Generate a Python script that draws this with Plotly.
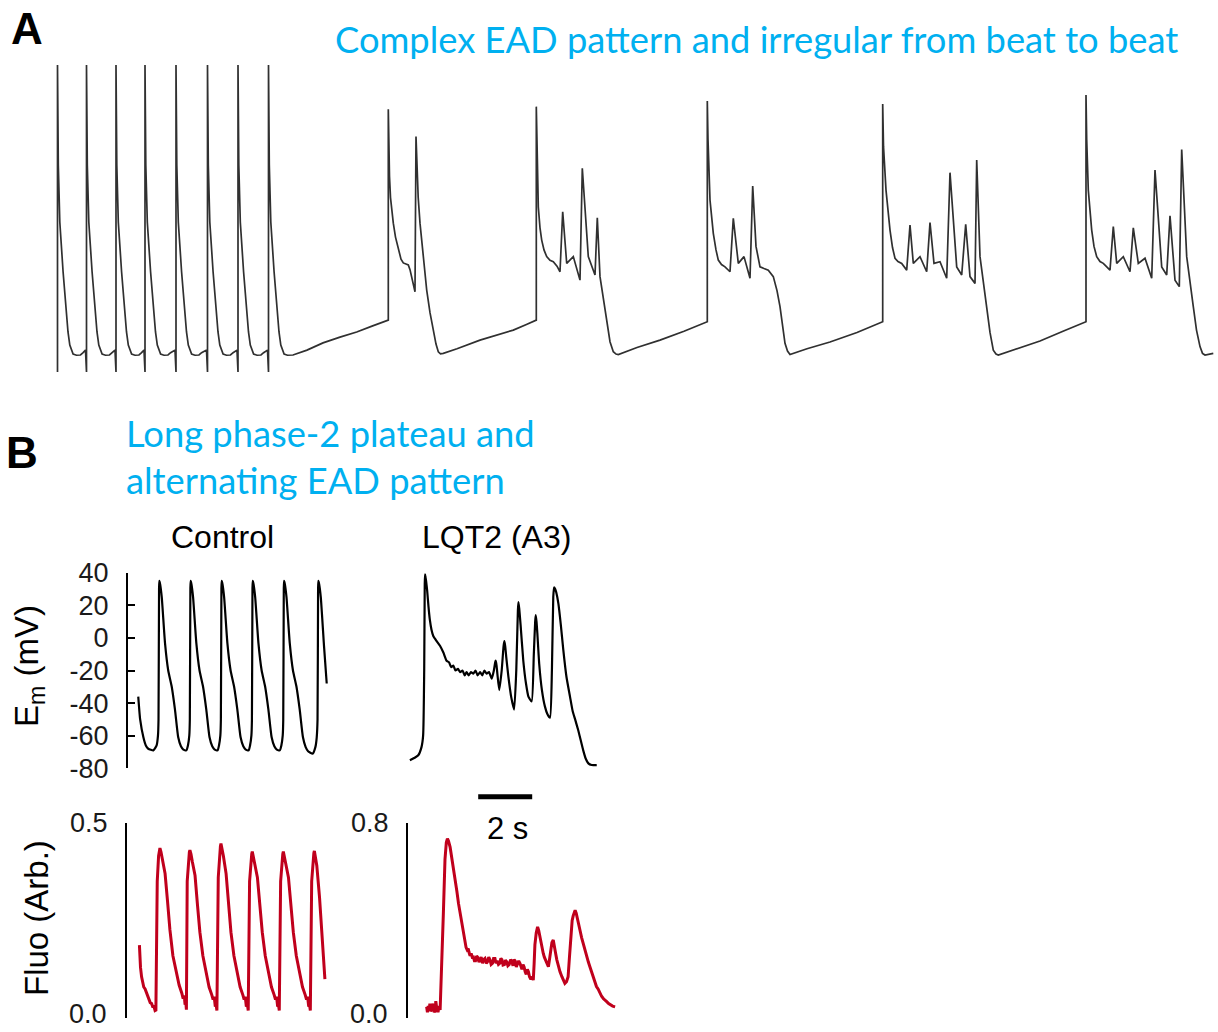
import plotly.graph_objects as go

W, H = 1218, 1032

# ---------------- Panel A : long recording (time in ms, membrane potential in mV) ----------------
tA_ms = [
    5, 5, 13, 28, 61, 95, 110, 128, 145, 161, 195, 235, 261, 285,
    295, 295, 303, 318, 351, 385, 400, 418, 435, 451, 485, 525, 551, 580,
    590, 590, 598, 613, 646, 680, 695, 713, 730, 746, 780, 820, 846, 870,
    880, 880, 888, 903, 936, 970, 985, 1003, 1020, 1036, 1070, 1110, 1136, 1180,
    1190, 1190, 1198, 1213, 1246, 1280, 1295, 1313, 1330, 1346, 1380, 1420, 1446, 1495,
    1505, 1505, 1513, 1528, 1561, 1595, 1610, 1628, 1645, 1661, 1695, 1735, 1761, 1800,
    1810, 1810, 1818, 1833, 1866, 1900, 1915, 1933, 1950, 1966, 2000, 2040, 2066, 2105,
    2115, 2115, 2123, 2138, 2171, 2205, 2220, 2238, 2255, 2271, 2305, 2360, 2500, 2660, 2830, 2997, 3150, 3297,
    3313, 3313, 3318, 3325, 3335, 3350, 3363, 3385, 3413, 3440, 3463, 3490, 3513, 3530, 3547, 3565, 3580,
    3590, 3600, 3612, 3630, 3665, 3697, 3730, 3763, 3790, 3813, 3835, 3863, 4000, 4230, 4400, 4563, 4700, 4793,
    4793, 4800, 4813, 4830, 4847, 4870, 4897, 4930, 4963, 5000, 5030, 5057, 5097, 5163, 5230, 5253, 5313,
    5380, 5403, 5430, 5497, 5530, 5563, 5590, 5613, 5800, 6030, 6270, 6503,
    6503, 6510, 6530, 6545, 6563, 6590, 6613, 6645, 6680, 6730, 6763, 6813, 6870, 6930, 6957, 6990, 7030,
    7070, 7113, 7163, 7200, 7230, 7255, 7280, 7305, 7330, 7500, 7730, 8000, 8257,
    8257, 8265, 8290, 8310, 8330, 8355, 8380, 8410, 8447, 8497, 8530, 8563, 8630, 8697, 8730, 8770, 8830,
    8897, 8930, 8997, 9047, 9087, 9130, 9180, 9197, 9230, 9265, 9297, 9330, 9363, 9390, 9413, 9600, 9830,
    10060, 10290,
    10290, 10297, 10313, 10330, 10347, 10370, 10397, 10430, 10463, 10530, 10563, 10597, 10663, 10730,
    10763, 10813, 10880, 10947, 10980, 11047, 11097, 11130, 11180, 11223, 11247, 11297, 11330, 11363,
    11395, 11430, 11455, 11480, 11563,
]
vA_mV = [
    -92, 40, -3, -27.5, -49, -67.5, -74.8, -80.4, -83, -84.3, -84.8, -84.7, -83.7, -82.6,
    -92, 40, -3, -27.5, -49, -67.5, -74.8, -80.4, -83, -84.3, -84.8, -84.7, -83.7, -82.6,
    -92, 40, -3, -27.5, -49, -67.5, -74.8, -80.4, -83, -84.3, -84.8, -84.7, -83.7, -82.6,
    -92, 40, -3, -27.5, -49, -67.5, -74.8, -80.4, -83, -84.3, -84.8, -84.7, -83.7, -82.6,
    -92, 40, -3, -27.5, -49, -67.5, -74.8, -80.4, -83, -84.3, -84.8, -84.7, -83.7, -82.6,
    -92, 40, -3, -27.5, -49, -67.5, -74.8, -80.4, -83, -84.3, -84.8, -84.7, -83.7, -82.6,
    -92, 40, -3, -27.5, -49, -67.5, -74.8, -80.4, -83, -84.3, -84.8, -84.7, -83.7, -82.6,
    -92, 40, -3, -27.5, -49, -67.5, -74.8, -80.4, -83, -84.3, -84.8, -84.7, -82.6, -79.5, -77, -74.8, -72.3, -69.7,
    -69.7, 21, 5, -8, -17, -24, -28, -34, -39.6, -43.5, -45.1, -45.5, -46, -48, -51.2, -54.5, -57.5,
    9.2, -5, -17, -28, -44, -56.8, -66.5, -74, -80, -83.3, -84.2, -84, -82, -78.3, -76, -74, -71.5, -69.7,
    22.1, 5, -21, -30, -35.3, -39.5, -42.4, -44, -44.6, -46.5, -48.9, -23.1, -45.3, -42.4, -52.5, -4.4, -42.4,
    -50.3, -25.7, -51, -71.1, -79, -83.3, -84.3, -84.5, -81.5, -78.3, -74.5, -70.4,
    24.5, 8, -18.1, -26.5, -32.4, -39.5, -43.9, -45.8, -46.8, -48.9, -25.9, -45.3, -42.4, -51.7, -12, -38, -46.8,
    -47.5, -48.2, -51, -57, -63.9, -72, -79.7, -83, -84.5, -82, -79.1, -75, -70.4,
    23.2, 5, -13.8, -24, -31, -38.5, -43.1, -44.5, -45.3, -48.2, -28.8, -45.3, -42.4, -48.9, -27.8, -45.3, -44.6,
    -51.7, -6.3, -46.8, -50.3, -28.5, -51, -53.9, -0.9, -42.4, -54, -63.9, -75, -82.6, -84.3, -84.7, -82, -78.7,
    -74.5, -70.4,
    27.1, 8, -13.8, -24, -31, -38, -42.4, -44.5, -45.3, -48.2, -29.5, -45.3, -42.4, -48.9,
    -30, -45.3, -43.1, -51.7, -5.2, -46.8, -50.3, -24.8, -52.5, -55.3, 3.7, -42.4, -54, -63.9,
    -74, -81.1, -84, -84.7, -84,
]

# ---------------- Panel B : membrane potential (time in s, mV) ----------------
t_em_ctrl = [
    0.38, 0.45, 0.57, 0.66, 0.75, 0.94, 1.06, 1.11, 1.13,
    1.15, 1.16, 1.19, 1.25, 1.37, 1.49, 1.62, 1.74, 1.86, 1.96, 2.05, 2.16, 2.22, 2.27, 2.29,
    2.31, 2.32, 2.35, 2.41, 2.53, 2.65, 2.78, 2.90, 3.02, 3.12, 3.21, 3.32, 3.37, 3.42, 3.44,
    3.46, 3.47, 3.50, 3.56, 3.68, 3.80, 3.93, 4.05, 4.17, 4.27, 4.36, 4.47, 4.52, 4.57, 4.59,
    4.61, 4.62, 4.65, 4.71, 4.83, 4.95, 5.08, 5.20, 5.32, 5.42, 5.51, 5.62, 5.68, 5.73, 5.75,
    5.77, 5.78, 5.81, 5.87, 5.99, 6.11, 6.24, 6.36, 6.48, 6.58, 6.67, 6.84, 6.94, 6.99, 7.02,
    7.04, 7.05, 7.08, 7.14, 7.26, 7.36,
]
em_ctrl = [
    -36, -50, -61, -66, -68, -69, -66, -60, -50,
    30, 35, 33, 25, -3, -20, -30, -44, -61, -66.5, -68.5, -69, -66, -60, -50,
    30, 35, 33, 25, -3, -20, -30, -44, -61, -66.5, -68.5, -69, -66, -60, -50,
    30, 35, 33, 25, -3, -20, -30, -44, -61, -66.5, -68.5, -69, -66, -60, -50,
    30, 35, 33, 25, -3, -20, -30, -44, -61, -66.5, -68.5, -69, -66, -60, -50,
    30, 35, 33, 25, -3, -20, -30, -44, -61, -67, -69.5, -71, -67, -61, -50,
    30, 35, 33, 25, -5, -28,
]
t_em_lqt2 = [
    0.07, 0.25, 0.38, 0.50, 0.56, 0.60, 0.62, 0.63, 0.65, 0.67, 0.71, 0.76, 0.81, 0.87, 0.94,
    1.06, 1.19, 1.31, 1.43, 1.52, 1.60, 1.68, 1.76, 1.85, 1.93, 2.02, 2.10, 2.17, 2.25, 2.33,
    2.42, 2.50, 2.58, 2.67, 2.75, 2.83, 2.91, 3.00, 3.10, 3.18, 3.23, 3.25, 3.28, 3.31, 3.38,
    3.47, 3.54, 3.57, 3.60, 3.64, 3.72, 3.82, 3.93, 4.01, 4.07, 4.09, 4.12, 4.17, 4.27, 4.37,
    4.46, 4.58, 4.66, 4.71, 4.73, 4.76, 4.79, 4.86, 4.96, 5.07, 5.17, 5.26, 5.33, 5.38, 5.41,
    5.45, 5.49, 5.57, 5.66, 5.75, 5.87, 6.00, 6.10, 6.19, 6.31, 6.40, 6.49, 6.58, 6.68, 6.80,
    6.99,
]
em_lqt2 = [
    -75, -73.5, -72, -67, -60, -20, 33, 39, 37, 35, 29, 19, 11, 5, 1,
    -2, -5, -9, -14, -15, -18, -17, -20, -19, -21, -20, -23, -21, -23, -21,
    -22, -20, -23, -21, -23, -20, -22, -21, -25, -20, -15, -14, -17, -22, -32,
    -20, -5, -2, -5, -12, -24, -36, -44, -20, 17, 22, 18, 8, -14, -28,
    -36, -39, -10, 10, 14, 10, 3, -16, -32, -42, -47, -49, -20, 25, 31,
    30, 28, 21, 8, -7, -24, -36, -45, -50, -57, -63, -69, -74, -77, -78,
    -78,
]

# ---------------- Panel B : Ca fluorescence (time in s, arbitrary units) ----------------
t_fl_ctrl = [
    0.46, 0.48, 0.50, 0.54, 0.58, 0.62, 0.67, 0.73, 0.78, 0.82, 0.86, 0.91, 0.95, 1.00, 1.04, 1.07,
    1.12, 1.17, 1.20, 1.22, 1.26, 1.31, 1.41, 1.50, 1.59, 1.70, 1.84, 1.93, 2.03, 2.08, 2.12, 2.15, 2.18, 2.20,
    2.23, 2.28, 2.31, 2.33, 2.37, 2.42, 2.52, 2.61, 2.70, 2.81, 2.95, 3.04, 3.14, 3.19, 3.23, 3.27, 3.30, 3.33,
    3.38, 3.43, 3.46, 3.48, 3.52, 3.57, 3.67, 3.76, 3.85, 3.96, 4.10, 4.19, 4.29, 4.34, 4.38, 4.42, 4.46, 4.49,
    4.54, 4.59, 4.62, 4.64, 4.68, 4.73, 4.83, 4.92, 5.01, 5.12, 5.26, 5.35, 5.45, 5.50, 5.54, 5.58, 5.61, 5.64,
    5.69, 5.74, 5.77, 5.79, 5.83, 5.88, 5.98, 6.07, 6.16, 6.27, 6.41, 6.50, 6.60, 6.65, 6.69, 6.73, 6.76, 6.79,
    6.84, 6.89, 6.92, 6.94, 6.98, 7.03, 7.13, 7.22, 7.33,
]
fl_ctrl = [
    0.187, 0.15, 0.13, 0.106, 0.095, 0.08, 0.075, 0.064, 0.055, 0.05, 0.04, 0.038, 0.03, 0.03, 0.02, 0.021,
    0.35, 0.415, 0.43, 0.435, 0.425, 0.405, 0.37, 0.30, 0.226, 0.16, 0.115, 0.085, 0.064, 0.05, 0.058, 0.035, 0.04, 0.022,
    0.35, 0.415, 0.425, 0.43, 0.42, 0.40, 0.365, 0.29, 0.22, 0.16, 0.11, 0.08, 0.06, 0.048, 0.055, 0.03, 0.035, 0.02,
    0.36, 0.43, 0.44, 0.447, 0.435, 0.415, 0.37, 0.29, 0.22, 0.16, 0.11, 0.08, 0.06, 0.048, 0.055, 0.03, 0.035, 0.02,
    0.35, 0.41, 0.42, 0.426, 0.415, 0.395, 0.36, 0.29, 0.22, 0.16, 0.11, 0.08, 0.06, 0.048, 0.055, 0.03, 0.035, 0.02,
    0.35, 0.41, 0.42, 0.426, 0.415, 0.395, 0.36, 0.29, 0.22, 0.16, 0.11, 0.08, 0.06, 0.048, 0.055, 0.03, 0.035, 0.02,
    0.35, 0.41, 0.422, 0.428, 0.415, 0.39, 0.31, 0.22, 0.10,
]
t_fl_lqt2 = [
    0.69, 0.72, 0.75, 0.78, 0.81, 0.84, 0.87, 0.90, 0.93, 0.97, 1.00, 1.03, 1.06, 1.09, 1.12, 1.16, 1.19,
    1.25, 1.31, 1.37, 1.42, 1.46, 1.50, 1.56, 1.62, 1.68, 1.75, 1.81, 1.87, 1.93, 1.98, 2.02, 2.07, 2.11,
    2.15, 2.19, 2.23, 2.26, 2.30, 2.34, 2.38, 2.42, 2.46, 2.50, 2.54, 2.58, 2.63, 2.67, 2.71, 2.76, 2.80,
    2.85, 2.90, 2.94, 2.99, 3.04, 3.08, 3.13, 3.17, 3.22, 3.26, 3.30, 3.35, 3.40, 3.44, 3.48, 3.52, 3.57,
    3.61, 3.66, 3.70, 3.75, 3.80, 3.84, 3.89, 3.93, 3.97, 4.01, 4.05, 4.10, 4.15, 4.19, 4.22, 4.26, 4.30,
    4.34, 4.38, 4.42, 4.46, 4.50, 4.55, 4.60, 4.64, 4.67, 4.70, 4.75, 4.80, 4.84, 4.89, 4.95, 5.01, 5.05,
    5.10, 5.15, 5.20, 5.24, 5.28, 5.33, 5.38, 5.42, 5.46, 5.51, 5.57, 5.63, 5.70, 5.75, 5.81, 5.87, 5.93,
    5.98, 6.04, 6.08, 6.12, 6.16, 6.19, 6.23, 6.30, 6.37, 6.43, 6.50, 6.56, 6.62, 6.68, 6.74, 6.80, 6.86,
    6.92, 6.98, 7.04, 7.11, 7.17, 7.24, 7.30, 7.36, 7.43, 7.50, 7.58, 7.67,
]
fl_lqt2 = [
    0.047, 0.025, 0.05, 0.03, 0.06, 0.028, 0.035, 0.06, 0.05, 0.025, 0.03, 0.07, 0.045, 0.03, 0.03, 0.05, 0.034,
    0.2, 0.43, 0.65, 0.72, 0.735, 0.725, 0.70, 0.66, 0.619, 0.57, 0.52, 0.47, 0.43, 0.39, 0.36, 0.33, 0.306,
    0.29, 0.28, 0.285, 0.27, 0.255, 0.265, 0.25, 0.251, 0.235, 0.235, 0.255, 0.25, 0.23, 0.24, 0.25, 0.225, 0.24,
    0.245, 0.225, 0.23, 0.25, 0.238, 0.22, 0.225, 0.245, 0.245, 0.225, 0.235, 0.22, 0.225, 0.245, 0.24, 0.218, 0.22,
    0.238, 0.231, 0.215, 0.22, 0.24, 0.235, 0.215, 0.24, 0.235, 0.21, 0.225, 0.235, 0.224, 0.205, 0.2, 0.22, 0.21,
    0.19, 0.18, 0.2, 0.19, 0.17, 0.16, 0.17, 0.156, 0.22, 0.30, 0.35, 0.374, 0.36, 0.33, 0.29, 0.265, 0.25,
    0.235, 0.225, 0.211, 0.24, 0.28, 0.31, 0.32, 0.30, 0.27, 0.24, 0.211, 0.19, 0.17, 0.16, 0.143, 0.15, 0.17,
    0.25, 0.36, 0.40, 0.42, 0.435, 0.442, 0.43, 0.40, 0.36, 0.33, 0.30, 0.275, 0.251, 0.23, 0.21, 0.19, 0.17,
    0.15, 0.13, 0.12, 0.102, 0.09, 0.08, 0.075, 0.068, 0.06, 0.055, 0.05, 0.047,
]

em_ticks = [-80, -60, -40, -20, 0, 20, 40]
fl_ctrl_ticks = [0.0, 0.5]
fl_lqt2_ticks = [0.0, 0.8]
scale_bar_s = [2.6, 4.6]

# ---------------- figure ----------------
BLUE = "#00B0F0"
RED = "#C0001C"
ARIAL = "Liberation Sans"

def px_x(p):
    return p / W

def px_y(p):
    return 1 - p / H

fig = go.Figure()
fig.add_trace(go.Scatter(x=tA_ms, y=vA_mV, mode="lines", xaxis="x", yaxis="y",
                         line=dict(color="#303030", width=1.7), hoverinfo="skip"))
fig.add_trace(go.Scatter(x=t_em_ctrl, y=em_ctrl, mode="lines", xaxis="x2", yaxis="y2",
                         line=dict(color="#000000", width=2.2, shape="spline", smoothing=0.5),
                         hoverinfo="skip"))
fig.add_trace(go.Scatter(x=t_em_lqt2, y=em_lqt2, mode="lines", xaxis="x3", yaxis="y3",
                         line=dict(color="#000000", width=2.2, shape="spline", smoothing=0.5),
                         hoverinfo="skip"))
fig.add_trace(go.Scatter(x=t_fl_ctrl, y=fl_ctrl, mode="lines", xaxis="x4", yaxis="y4",
                         line=dict(color=RED, width=3), hoverinfo="skip"))
fig.add_trace(go.Scatter(x=t_fl_lqt2, y=fl_lqt2, mode="lines", xaxis="x5", yaxis="y5",
                         line=dict(color=RED, width=3), hoverinfo="skip"))

hidden = dict(visible=False, showgrid=False, zeroline=False, fixedrange=True)
span_s = 212 / 27.0

def yax(dom, rng, tickvals, ticktext, anchor, minor_vals=None):
    d = dict(domain=dom, range=rng, anchor=anchor, showline=True, linecolor="#000",
             linewidth=2, ticks="inside", ticklen=7, tickwidth=2, tickcolor="#000",
             tickvals=tickvals, ticktext=ticktext, showgrid=False, zeroline=False,
             tickfont=dict(family=ARIAL, size=27, color="#1a1a1a"),
             ticklabelstandoff=12, ticklabeloverflow="allow", fixedrange=True)
    if minor_vals:
        d["minor"] = dict(tickvals=minor_vals, ticks="inside", ticklen=7, tickwidth=2,
                          tickcolor="#000", showgrid=False)
    return d

em_dom = [px_y(768.3), px_y(572.7)]
fl_dom = [px_y(1018.3), px_y(822.7)]

# the bottom "0.0" labels sit at the very edge of the page: their tick marks are drawn as
# minor ticks and their labels as annotations kept inside the page
fl_ctrl_major = [v for v in fl_ctrl_ticks if v != 0]
fl_lqt2_major = [v for v in fl_lqt2_ticks if v != 0]

fig.update_layout(
    width=W, height=H, margin=dict(l=0, r=0, t=0, b=0, autoexpand=False),
    paper_bgcolor="white", plot_bgcolor="rgba(0,0,0,0)", showlegend=False,
    xaxis=dict(domain=[0, 1], range=[-570, 11610], anchor="y", **hidden),
    yaxis=dict(domain=[px_y(390), px_y(50)], range=[-99.75, 46.45], anchor="x", **hidden),
    xaxis2=dict(domain=[px_x(128), px_x(340)], range=[0, span_s], anchor="y2", **hidden),
    yaxis2=yax(em_dom, [-80, 40], em_ticks, [str(v) for v in em_ticks], "x2"),
    xaxis3=dict(domain=[px_x(408), px_x(620)], range=[0, span_s], anchor="y3", **hidden),
    yaxis3=dict(domain=em_dom, range=[-80, 40], anchor="x3", **hidden),
    xaxis4=dict(domain=[px_x(127), px_x(339)], range=[0, span_s], anchor="y4", **hidden),
    yaxis4=yax(fl_dom, [0, 0.5], fl_ctrl_major, ["%.1f" % v for v in fl_ctrl_major], "x4", [0.0]),
    xaxis5=dict(domain=[px_x(408), px_x(620)], range=[0, span_s], anchor="y5", **hidden),
    yaxis5=yax(fl_dom, [0, 0.8], fl_lqt2_major, ["%.1f" % v for v in fl_lqt2_major], "x5", [0.0]),
)

fig.add_shape(type="line", xref="x5", yref="paper", x0=scale_bar_s[0], x1=scale_bar_s[1],
              y0=px_y(796.7), y1=px_y(796.7), line=dict(color="#000", width=5))

def ann(text, x, y, size, color="#000", family=ARIAL, xanchor="center", angle=0, yanchor="middle"):
    fig.add_annotation(text=text, x=px_x(x), y=px_y(y), xref="paper", yref="paper",
                       showarrow=False, xanchor=xanchor, yanchor=yanchor, textangle=angle,
                       font=dict(family=family, size=size, color=color))

ann("<b>A</b>", 27, 28, 44)
ann("<b>B</b>", 22, 452, 44)
ann("Complex EAD pattern and irregular from beat to beat", 333, 39, 36.3, BLUE, "Lato", "left")
ann("Long phase-2 plateau and", 124, 433, 36.3, BLUE, "Lato", "left")
ann("alternating EAD pattern", 124, 480, 36.3, BLUE, "Lato", "left")
ann("Control", 222, 537, 32)
ann("LQT2 (A3)", 496, 537, 32)
ann("E<sub>m</sub> (mV)", 29, 666, 33, angle=-90)
ann("Fluo (Arb.)", 36, 918, 33, angle=-90)
ann("2 s", 507, 828, 31)
ann("%.1f" % fl_ctrl_ticks[0], 109, 1031, 27, "#1a1a1a", xanchor="right", yanchor="bottom")
ann("%.1f" % fl_lqt2_ticks[0], 390, 1031, 27, "#1a1a1a", xanchor="right", yanchor="bottom")

fig.write_html("out.html")
